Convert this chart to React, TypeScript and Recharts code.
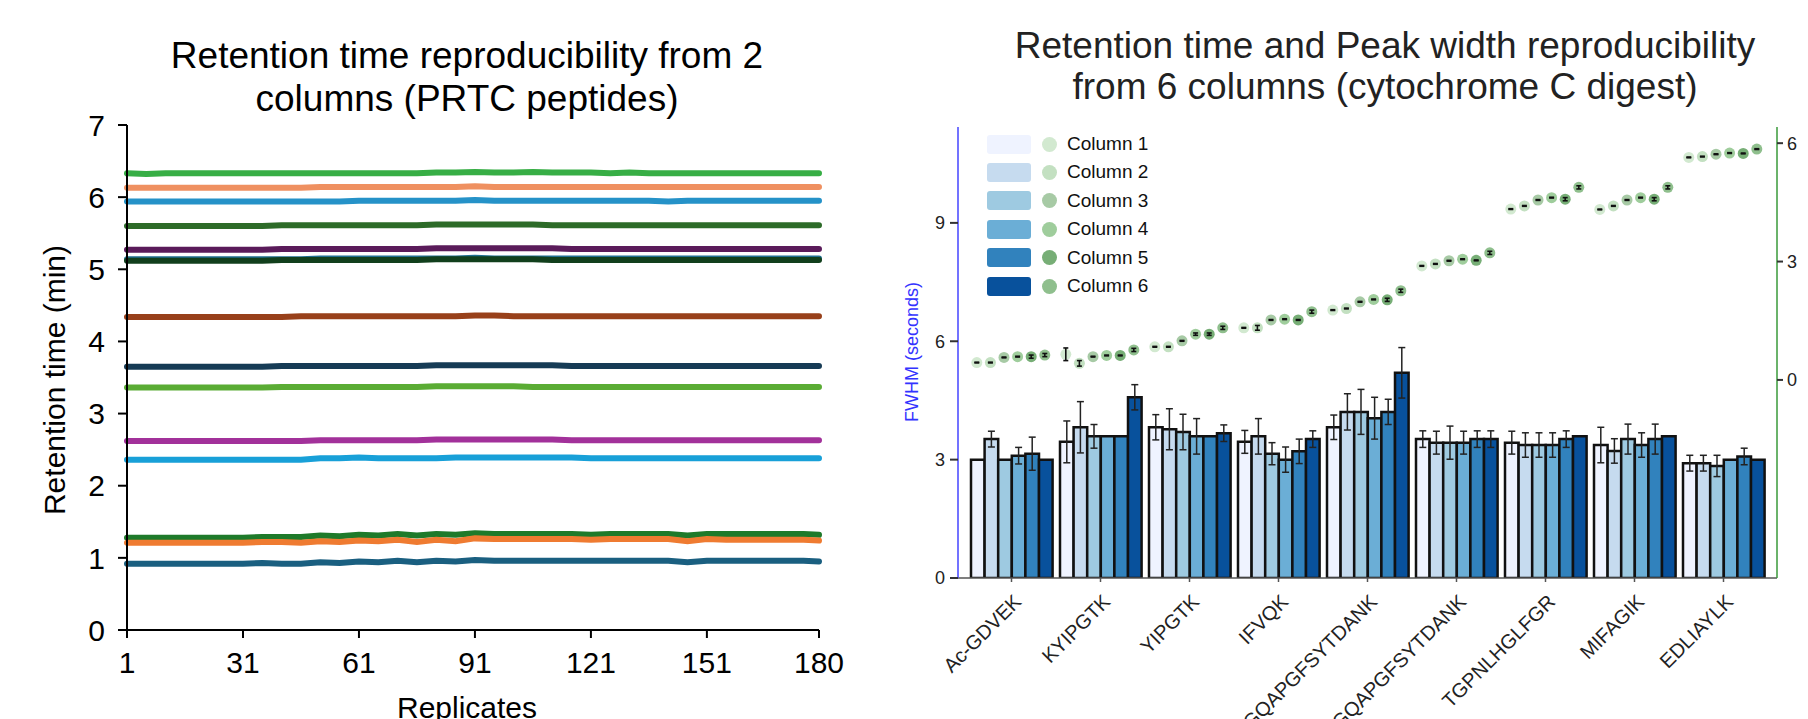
import React from "react";
import {
  LineChart,
  Line,
  ComposedChart,
  Bar,
  Scatter,
  ErrorBar,
  XAxis,
  YAxis,
} from "recharts";

// ---------- left chart: retention time over 180 replicates ----------
const replicates = [
  1, 6, 11, 16, 21, 26, 31, 36, 41, 46, 51, 56, 61, 66, 71, 76, 81, 86, 91,
  96, 101, 106, 111, 116, 121, 126, 131, 136, 141, 146, 151, 156, 161, 166,
  171, 176, 180,
];
const replicateTicks = [1, 31, 61, 91, 121, 151, 180];
const rtTicks = [0, 1, 2, 3, 4, 5, 6, 7];

const rtGreenTop = [6.33,6.32,6.33,6.33,6.33,6.33,6.33,6.33,6.33,6.33,6.33,6.33,6.33,6.33,6.33,6.33,6.34,6.34,6.35,6.34,6.34,6.35,6.34,6.34,6.34,6.33,6.34,6.33,6.33,6.33,6.33,6.33,6.33,6.33,6.33,6.33,6.33];
const rtOrangeTop = [6.13,6.13,6.13,6.13,6.13,6.13,6.13,6.13,6.13,6.13,6.14,6.14,6.14,6.14,6.14,6.14,6.14,6.14,6.15,6.14,6.14,6.14,6.14,6.14,6.14,6.14,6.14,6.14,6.14,6.14,6.14,6.14,6.14,6.14,6.14,6.14,6.14];
const rtBlueTop = [5.94,5.94,5.94,5.94,5.94,5.94,5.94,5.94,5.94,5.94,5.94,5.94,5.95,5.95,5.95,5.95,5.95,5.95,5.96,5.95,5.95,5.95,5.95,5.95,5.95,5.95,5.95,5.95,5.94,5.95,5.95,5.95,5.95,5.95,5.95,5.95,5.95];
const rtDarkGreen = [5.60,5.60,5.60,5.60,5.60,5.60,5.60,5.60,5.61,5.61,5.61,5.61,5.61,5.61,5.61,5.61,5.62,5.62,5.62,5.62,5.62,5.62,5.61,5.61,5.61,5.61,5.61,5.61,5.61,5.61,5.61,5.61,5.61,5.61,5.61,5.61,5.61];
const rtPurple = [5.27,5.27,5.27,5.27,5.27,5.27,5.27,5.27,5.28,5.28,5.28,5.28,5.28,5.28,5.28,5.28,5.29,5.29,5.29,5.29,5.29,5.29,5.29,5.28,5.28,5.28,5.28,5.28,5.28,5.28,5.28,5.28,5.28,5.28,5.28,5.28,5.28];
const rtTeal = [5.14,5.14,5.14,5.14,5.14,5.14,5.14,5.14,5.14,5.14,5.15,5.15,5.15,5.15,5.15,5.15,5.15,5.15,5.16,5.15,5.15,5.15,5.15,5.15,5.15,5.15,5.15,5.15,5.15,5.15,5.15,5.15,5.15,5.15,5.15,5.15,5.15];
const rtForest = [5.12,5.12,5.12,5.12,5.12,5.12,5.12,5.12,5.13,5.13,5.13,5.13,5.13,5.13,5.13,5.13,5.14,5.14,5.14,5.14,5.14,5.14,5.13,5.13,5.13,5.13,5.13,5.13,5.13,5.13,5.13,5.13,5.13,5.13,5.13,5.13,5.13];
const rtBrown = [4.34,4.34,4.34,4.34,4.34,4.34,4.34,4.34,4.34,4.35,4.35,4.35,4.35,4.35,4.35,4.35,4.35,4.35,4.36,4.36,4.35,4.35,4.35,4.35,4.35,4.35,4.35,4.35,4.35,4.35,4.35,4.35,4.35,4.35,4.35,4.35,4.35];
const rtNavy = [3.65,3.65,3.65,3.65,3.65,3.65,3.65,3.65,3.66,3.66,3.66,3.66,3.66,3.66,3.66,3.66,3.67,3.67,3.67,3.67,3.67,3.67,3.67,3.66,3.66,3.66,3.66,3.66,3.66,3.66,3.66,3.66,3.66,3.66,3.66,3.66,3.66];
const rtLightGreen = [3.36,3.36,3.36,3.36,3.36,3.36,3.36,3.36,3.37,3.37,3.37,3.37,3.37,3.37,3.37,3.37,3.38,3.38,3.38,3.38,3.38,3.37,3.37,3.37,3.37,3.37,3.37,3.37,3.37,3.37,3.37,3.37,3.37,3.37,3.37,3.37,3.37];
const rtMagenta = [2.62,2.62,2.62,2.62,2.62,2.62,2.62,2.62,2.62,2.62,2.63,2.63,2.63,2.63,2.63,2.63,2.64,2.64,2.64,2.64,2.64,2.64,2.64,2.63,2.63,2.63,2.63,2.63,2.63,2.63,2.63,2.63,2.63,2.63,2.63,2.63,2.63];
const rtCyan = [2.36,2.36,2.36,2.36,2.36,2.36,2.36,2.36,2.36,2.36,2.38,2.38,2.39,2.38,2.38,2.38,2.38,2.39,2.39,2.39,2.39,2.39,2.39,2.39,2.38,2.38,2.38,2.38,2.38,2.38,2.38,2.38,2.38,2.38,2.38,2.38,2.38];
const rtGreenLow = [1.28,1.28,1.28,1.28,1.28,1.28,1.28,1.29,1.29,1.29,1.31,1.30,1.32,1.31,1.33,1.31,1.33,1.32,1.34,1.33,1.33,1.33,1.33,1.33,1.32,1.33,1.33,1.33,1.33,1.31,1.33,1.33,1.33,1.33,1.33,1.33,1.32];
const rtOrangeLow = [1.21,1.21,1.21,1.21,1.21,1.21,1.21,1.22,1.22,1.21,1.23,1.22,1.24,1.23,1.25,1.22,1.25,1.23,1.27,1.26,1.26,1.26,1.26,1.26,1.25,1.26,1.26,1.26,1.26,1.23,1.26,1.25,1.25,1.25,1.25,1.25,1.24];
const rtBlueLow = [0.92,0.92,0.92,0.92,0.92,0.92,0.92,0.93,0.92,0.92,0.94,0.93,0.95,0.94,0.96,0.94,0.96,0.95,0.97,0.96,0.96,0.96,0.96,0.96,0.96,0.96,0.96,0.96,0.96,0.94,0.96,0.96,0.96,0.96,0.96,0.96,0.95];

const rtSeries = [
  { key: "greenTop", color: "#37ae45", values: rtGreenTop },
  { key: "orangeTop", color: "#ef9060", values: rtOrangeTop },
  { key: "blueTop", color: "#2592c8", values: rtBlueTop },
  { key: "darkGreen", color: "#2d6b28", values: rtDarkGreen },
  { key: "purple", color: "#5a1b5a", values: rtPurple },
  { key: "teal", color: "#1f6f8f", values: rtTeal },
  { key: "forest", color: "#113f1c", values: rtForest },
  { key: "brown", color: "#98401a", values: rtBrown },
  { key: "navy", color: "#163b55", values: rtNavy },
  { key: "lightGreen", color: "#5aac34", values: rtLightGreen },
  { key: "magenta", color: "#a2319a", values: rtMagenta },
  { key: "cyan", color: "#18a0d8", values: rtCyan },
  { key: "greenLow", color: "#1e7a2a", values: rtGreenLow },
  { key: "orangeLow", color: "#ef7b31", values: rtOrangeLow },
  { key: "blueLow", color: "#1a5f80", values: rtBlueLow },
];

const rtTable = replicates.map((rep, i) => {
  const row: Record<string, number> = { rep };
  rtSeries.forEach((s) => (row[s.key] = s.values[i]));
  return row;
});

// ---------- right chart: FWHM bars + retention time dots ----------
const peptides = [
  "Ac-GDVEK",
  "KYIPGTK",
  "YIPGTK",
  "IFVQK",
  "TGQAPGFSYTDANK",
  "KTGQAPGFSYTDANK",
  "TGPNLHGLFGR",
  "MIFAGIK",
  "EDLIAYLK",
];
const columnNames = ["Column 1", "Column 2", "Column 3", "Column 4", "Column 5", "Column 6"];

const fwhmCol1 = [3.0, 3.45, 3.82, 3.45, 3.82, 3.52, 3.43, 3.37, 2.91];
const fwhmCol2 = [3.52, 3.82, 3.77, 3.59, 4.21, 3.43, 3.37, 3.22, 2.91];
const fwhmCol3 = [3.0, 3.59, 3.7, 3.15, 4.21, 3.43, 3.37, 3.52, 2.84];
const fwhmCol4 = [3.1, 3.59, 3.59, 3.0, 4.05, 3.43, 3.37, 3.37, 3.0];
const fwhmCol5 = [3.15, 3.59, 3.59, 3.21, 4.21, 3.52, 3.52, 3.52, 3.08];
const fwhmCol6 = [3.0, 4.58, 3.67, 3.52, 5.2, 3.52, 3.59, 3.59, 3.0];

const fwhmErr1 = [0, 0.53, 0.32, 0.29, 0.31, 0.21, 0.29, 0.45, 0.2];
const fwhmErr2 = [0.2, 0.65, 0.52, 0.45, 0.46, 0.29, 0.31, 0.31, 0.2];
const fwhmErr3 = [0, 0.3, 0.45, 0.28, 0.57, 0.42, 0.31, 0.38, 0.27];
const fwhmErr4 = [0.21, 0, 0.45, 0.32, 0.53, 0.29, 0.31, 0.31, 0];
const fwhmErr5 = [0.42, 0, 0, 0.31, 0.32, 0.21, 0.21, 0.38, 0.21];
const fwhmErr6 = [0, 0.32, 0.21, 0.21, 0.64, 0.21, 0, 0, 0];

const rtCol1 = [0.44, 0.65, 0.84, 1.32, 1.77, 2.89, 4.33, 4.32, 5.64];
const rtCol2 = [0.44, 0.42, 0.84, 1.32, 1.81, 2.94, 4.41, 4.41, 5.66];
const rtCol3 = [0.57, 0.59, 0.99, 1.52, 1.98, 3.02, 4.56, 4.56, 5.72];
const rtCol4 = [0.59, 0.62, 1.16, 1.54, 2.04, 3.06, 4.62, 4.62, 5.75];
const rtCol5 = [0.59, 0.62, 1.16, 1.52, 2.03, 3.03, 4.58, 4.58, 5.74];
const rtCol6 = [0.63, 0.76, 1.32, 1.73, 2.26, 3.22, 4.88, 4.88, 5.85];

const rtErr1 = [0.01, 0.16, 0.01, 0.01, 0.01, 0.01, 0.01, 0.01, 0.01];
const rtErr2 = [0.01, 0.07, 0.01, 0.06, 0.01, 0.01, 0.01, 0.01, 0.01];
const rtErr3 = [0.01, 0.01, 0.01, 0.01, 0.01, 0.01, 0.01, 0.01, 0.01];
const rtErr4 = [0.01, 0.01, 0.03, 0.01, 0.01, 0.01, 0.01, 0.01, 0.01];
const rtErr5 = [0.04, 0.01, 0.03, 0.01, 0.04, 0.01, 0.04, 0.04, 0.01];
const rtErr6 = [0.04, 0.04, 0.04, 0.04, 0.04, 0.04, 0.04, 0.04, 0.01];

const fwhmTicks = [0, 3, 6, 9];
const rtRightTicks = [0, 3, 6];

const barColors = ["#eff3ff", "#c6dbef", "#9ecae1", "#6baed6", "#3182bd", "#08519c"];
const dotColors = ["#d2e9d0", "#c3e0c1", "#a7caa5", "#9fcd9c", "#77ae76", "#8fbf8d"];

const fwhmCols = [fwhmCol1, fwhmCol2, fwhmCol3, fwhmCol4, fwhmCol5, fwhmCol6];
const fwhmErrs = [fwhmErr1, fwhmErr2, fwhmErr3, fwhmErr4, fwhmErr5, fwhmErr6];
const rtCols = [rtCol1, rtCol2, rtCol3, rtCol4, rtCol5, rtCol6];
const rtErrs = [rtErr1, rtErr2, rtErr3, rtErr4, rtErr5, rtErr6];

const barTable = peptides.map((p, i) => {
  const row: Record<string, number | string> = { peptide: p };
  fwhmCols.forEach((c, k) => {
    row[`c${k}`] = c[i];
    row[`e${k}`] = fwhmErrs[k][i];
  });
  return row;
});

// layout of the bar groups, used to put each dot over its own bar
const BAND = 89;
const BAR_SIZE = 13.6;
const GROUP_OFFSET = Math.floor((BAND - BAR_SIZE * 6) / 2);
const slot = (k: number) => (GROUP_OFFSET + BAR_SIZE * (k + 0.5)) / BAND;

const dotSeries = rtCols.map((vals, k) =>
  vals.map((v, i) => ({ x: i + slot(k), y: v, err: rtErrs[k][i] }))
);

const FONT = "'Liberation Sans', Arial, Helvetica, sans-serif";
const RIGHT_MARGIN = { top: 127, right: 0, bottom: 0, left: 18 };

function PeptideTick(props: any) {
  const { x, y, payload } = props;
  const ax = x + 11;
  return (
    <text
      x={ax}
      y={y}
      transform={`rotate(-45 ${ax} ${y})`}
      textAnchor="end"
      fontSize={20}
      fill="#222"
      fontFamily={FONT}
    >
      {payload.value}
    </text>
  );
}

const abs = (style: React.CSSProperties): React.CSSProperties => ({
  position: "absolute",
  whiteSpace: "nowrap",
  ...style,
});

// the same axes for the bar chart and for the transparent whisker layer on top
function rightAxes(visible: boolean) {
  return [
    <XAxis
      key="cat"
      xAxisId="cat"
      dataKey="peptide"
      type="category"
      interval={0}
      height={141}
      padding={{ left: 9, right: 9 }}
      tickSize={4}
      tickMargin={21}
      axisLine={visible ? { stroke: "#555", strokeWidth: 1.5 } : false}
      tickLine={visible ? { stroke: "#555", strokeWidth: 1.5 } : false}
      tick={visible ? <PeptideTick /> : false}
    />,
    <XAxis
      key="pos"
      xAxisId="pos"
      dataKey="x"
      type="number"
      domain={[0, 9]}
      padding={{ left: 9, right: 9 }}
      allowDataOverflow
      hide
    />,
    <YAxis
      key="left"
      yAxisId="left"
      type="number"
      domain={[0, 11.43]}
      ticks={fwhmTicks}
      interval={0}
      width={60}
      tickSize={8}
      tickMargin={5}
      allowDataOverflow
      axisLine={visible ? { stroke: "#4444ff", strokeWidth: 1.5 } : false}
      tickLine={visible ? { stroke: "#333", strokeWidth: 2 } : false}
      tick={visible ? { fontSize: 18, fill: "#222", fontFamily: FONT } : false}
    />,
    <YAxis
      key="right"
      yAxisId="right"
      orientation="right"
      dataKey="y"
      type="number"
      domain={[-5.02, 6.41]}
      ticks={rtRightTicks}
      interval={0}
      width={31}
      tickSize={6}
      tickMargin={4}
      allowDataOverflow
      axisLine={visible ? { stroke: "#3a9a3a", strokeWidth: 1.5 } : false}
      tickLine={visible ? { stroke: "#333", strokeWidth: 2 } : false}
      tick={visible ? { fontSize: 18, fill: "#222", fontFamily: FONT } : false}
    />,
  ];
}

export default function App() {
  return (
    <div
      style={{
        position: "absolute",
        left: 0,
        top: 0,
        width: 1808,
        height: 719,
        overflow: "hidden",
        background: "#fff",
        fontFamily: FONT,
      }}
    >
      {/* left chart */}
      <div style={abs({ left: 0, top: 0 })}>
        <LineChart
          width={880}
          height={719}
          data={rtTable}
          margin={{ top: 125, right: 61, bottom: 28, left: 47 }}
        >
          <XAxis
            dataKey="rep"
            type="number"
            domain={[1, 180]}
            ticks={replicateTicks}
            interval={0}
            height={61}
            tickSize={8}
            tickMargin={14}
            axisLine={{ stroke: "#000", strokeWidth: 2 }}
            tickLine={{ stroke: "#000", strokeWidth: 2 }}
            tick={{ fontSize: 30, fill: "#000", fontFamily: FONT }}
          />
          <YAxis
            type="number"
            domain={[0, 7]}
            ticks={rtTicks}
            interval={0}
            width={80}
            tickSize={9}
            tickMargin={13}
            axisLine={{ stroke: "#000", strokeWidth: 2 }}
            tickLine={{ stroke: "#000", strokeWidth: 2 }}
            tick={{ fontSize: 30, fill: "#000", fontFamily: FONT }}
          />
          {rtSeries.map((s) => (
            <Line
              key={s.key}
              type="linear"
              dataKey={s.key}
              stroke={s.color}
              strokeWidth={6}
              strokeLinecap="round"
              dot={false}
              isAnimationActive={false}
            />
          ))}
        </LineChart>
      </div>
      <div
        style={abs({
          left: 67,
          width: 800,
          top: 34,
          textAlign: "center",
          fontSize: 37,
          lineHeight: "43px",
          color: "#000",
          whiteSpace: "normal",
        })}
      >
        Retention time reproducibility from 2
        <br />
        columns (PRTC peptides)
      </div>
      <div
        style={abs({
          left: 55,
          top: 380,
          fontSize: 30,
          lineHeight: "30px",
          transform: "translate(-50%, -50%) rotate(-90deg)",
          color: "#000",
        })}
      >
        Retention time (min)
      </div>
      <div
        style={abs({
          left: 467,
          top: 693,
          fontSize: 30,
          lineHeight: "30px",
          transform: "translateX(-50%)",
          color: "#000",
        })}
      >
        Replicates
      </div>

      {/* right chart */}
      <div style={abs({ left: 880, top: 0 })}>
        <ComposedChart
          width={928}
          height={719}
          data={barTable}
          barGap={0}
          margin={RIGHT_MARGIN}
        >
          {rightAxes(true)}
          {barColors.map((color, k) => (
            <Bar
              key={`bar${k}`}
              xAxisId="cat"
              yAxisId="left"
              dataKey={`c${k}`}
              name={columnNames[k]}
              fill={color}
              stroke="#111"
              strokeWidth={2.5}
              barSize={BAR_SIZE}
              isAnimationActive={false}
            >
              <ErrorBar
                dataKey={`e${k}`}
                direction="y"
                width={3.5}
                stroke="#222"
                strokeWidth={1.5}
              />
            </Bar>
          ))}
          {dotColors.map((color, k) => (
            <Scatter
              key={`dot${k}`}
              xAxisId="pos"
              yAxisId="right"
              data={dotSeries[k]}
              name={columnNames[k]}
              isAnimationActive={false}
              shape={(p: any) => (
                <circle cx={p.cx} cy={p.cy} r={5.5} fill={color} />
              )}
            />
          ))}
        </ComposedChart>
      </div>
      {/* whiskers of the dots, in a transparent copy of the chart on top */}
      <div style={abs({ left: 880, top: 0, pointerEvents: "none" })}>
        <ComposedChart
          width={928}
          height={719}
          data={barTable}
          barGap={0}
          margin={RIGHT_MARGIN}
        >
          {rightAxes(false)}
          {dotColors.map((_, k) => (
            <Scatter
              key={`whisker${k}`}
              xAxisId="pos"
              yAxisId="right"
              data={dotSeries[k]}
              isAnimationActive={false}
              shape={() => <g />}
            >
              <ErrorBar
                dataKey="err"
                direction="y"
                width={2.5}
                stroke="#111"
                strokeWidth={1.6}
              />
            </Scatter>
          ))}
        </ComposedChart>
      </div>
      <div
        style={abs({
          left: 985,
          width: 800,
          top: 25,
          textAlign: "center",
          fontSize: 37,
          lineHeight: "41px",
          color: "#222",
          whiteSpace: "normal",
        })}
      >
        Retention time and Peak width reproducibility
        <br />
        from 6 columns (cytochrome C digest)
      </div>
      <div
        style={abs({
          left: 912,
          top: 352,
          fontSize: 18,
          lineHeight: "18px",
          transform: "translate(-50%, -50%) rotate(-90deg)",
          color: "#3333ff",
        })}
      >
        FWHM (seconds)
      </div>
      {columnNames.map((name, k) => (
        <div
          key={name}
          style={abs({
            left: 987,
            top: 144 + k * 28.4 - 10,
            height: 20,
            display: "flex",
            alignItems: "center",
          })}
        >
          <div
            style={{
              width: 44,
              height: 19,
              borderRadius: 3,
              background: barColors[k],
            }}
          />
          <div
            style={{
              width: 15,
              height: 15,
              borderRadius: "50%",
              background: dotColors[k],
              marginLeft: 11,
            }}
          />
          <div style={{ marginLeft: 10, fontSize: 19, color: "#111" }}>{name}</div>
        </div>
      ))}
    </div>
  );
}
